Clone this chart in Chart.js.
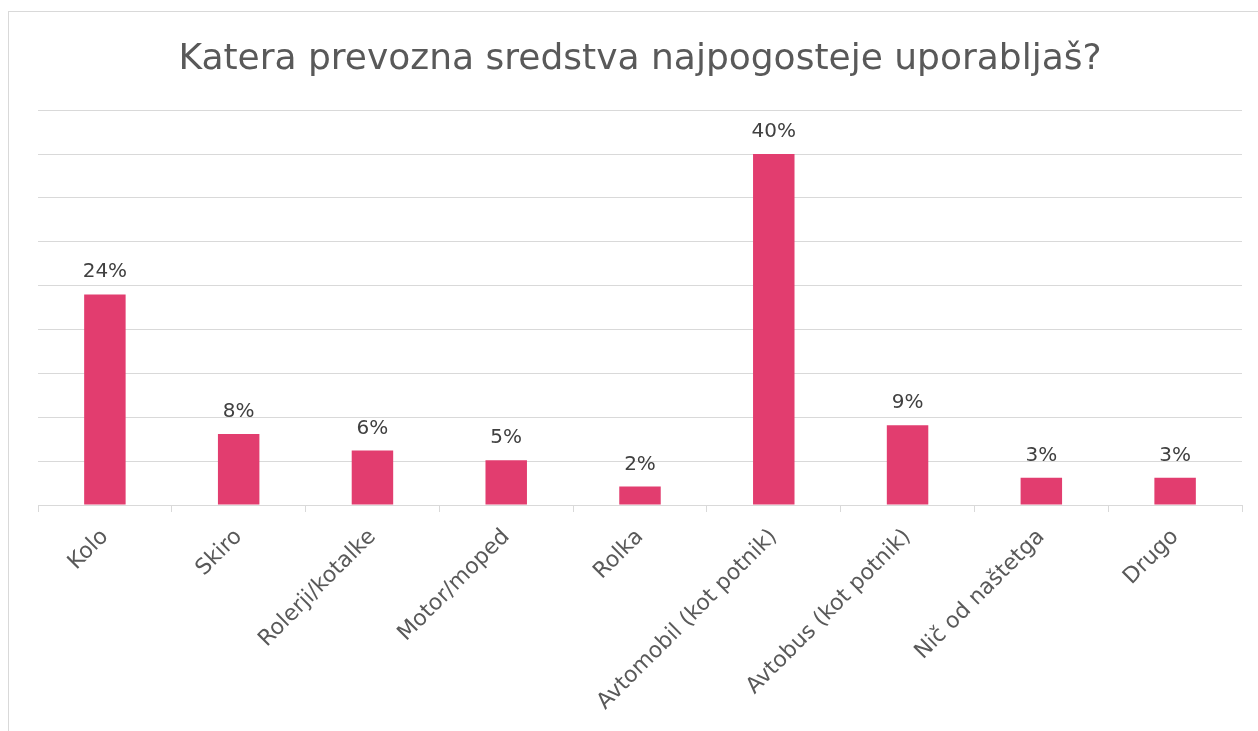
<!DOCTYPE html>
<html>
<head>
<meta charset="utf-8">
<script src="https://cdn.jsdelivr.net/npm/chart.js@4.4.1/dist/chart.umd.min.js"></script>
<style>
  html, body { margin: 0; padding: 0; background: #fff; overflow: hidden; }
  #frame { position: absolute; left: 8px; top: 11px; width: 1262px; height: 740px; border: 1px solid #d9d9d9; box-sizing: border-box; }
  #wrap { position: absolute; left: 0; top: 0; width: 1258px; height: 731px; }
</style>
</head>
<body>
<div id="frame"></div>
<div id="wrap"><canvas id="chart"></canvas></div>
<script>
// Survey: which means of transport do you use most often
const categories = ['Kolo', 'Skiro', 'Rolerji/kotalke', 'Motor/moped', 'Rolka',
  'Avtomobil (kot potnik)', 'Avtobus (kot potnik)', 'Nič od naštetga', 'Drugo'];
const shares = [24, 8.1, 6.2, 5.1, 2.1, 40, 9.1, 3.1, 3.1];
const yMax = 45;
const yStep = 5;

const barColor = '#e23d6f';
const textColor = '#595959';
const gridColor = '#d9d9d9';
const fontFamily = '"DejaVu Sans", "Noto Sans", sans-serif';

// draws the "24%" style value labels above each bar
const valueLabels = {
  id: 'valueLabels',
  afterDatasetsDraw(chart) {
    const ctx = chart.ctx;
    const meta = chart.getDatasetMeta(0);
    ctx.save();
    ctx.font = '20px ' + fontFamily;
    ctx.fillStyle = '#404040';
    ctx.textAlign = 'center';
    ctx.textBaseline = 'alphabetic';
    meta.data.forEach((bar, i) => {
      ctx.fillText(Math.round(shares[i]) + '%', bar.x, bar.y - 17);
    });
    ctx.restore();
  }
};

new Chart(document.getElementById('chart'), {
  type: 'bar',
  data: {
    labels: categories,
    datasets: [{
      data: shares,
      backgroundColor: barColor,
      borderWidth: 0,
      categoryPercentage: 1,
      barPercentage: 0.31
    }]
  },
  options: {
    responsive: true, maintainAspectRatio: false, animation: false,
    layout: { padding: { top: 16, left: 38, right: 16, bottom: 0 } },
    plugins: {
      legend: { display: false },
      tooltip: { enabled: false },
      title: {
        display: true,
        text: 'Katera prevozna sredstva najpogosteje uporabljaš?',
        color: textColor,
        font: { family: fontFamily, size: 36, weight: 'normal' },
        padding: { top: 22, bottom: 29 }
      }
    },
    scales: {
      x: {
        grid: { offset: true, drawOnChartArea: false, drawTicks: true, tickLength: 7, color: gridColor },
        border: { color: gridColor, width: 1 },
        ticks: {
          color: textColor, maxRotation: 45, minRotation: 45, autoSkip: false,
          padding: 12,
          font: { family: fontFamily, size: 22 }
        },
        afterFit(scale) { scale.height = 226; }
      },
      y: {
        min: 0, max: yMax,
        ticks: { display: false, stepSize: yStep },
        grid: { color: gridColor, lineWidth: 1, drawTicks: false },
        border: { display: false },
        afterFit(scale) { scale.width = 0; }
      }
    }
  },
  plugins: [valueLabels]
});
</script>
</body>
</html>
